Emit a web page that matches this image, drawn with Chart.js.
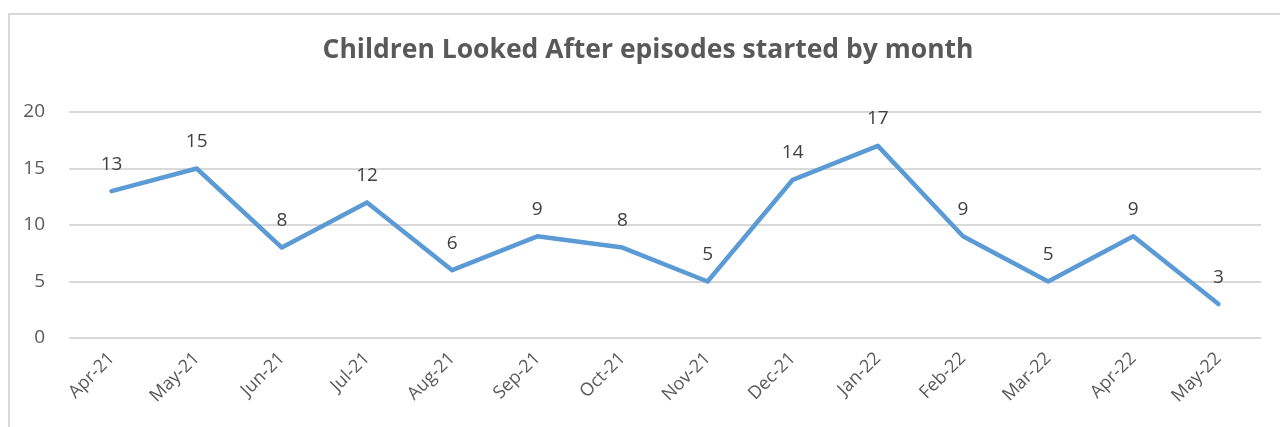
<!DOCTYPE html>
<html>
<head>
<meta charset="utf-8">
<script src="https://cdn.jsdelivr.net/npm/chart.js@4"></script>
<style>
  html, body { margin: 0; padding: 0; background: #fff; overflow: hidden; }
  #frame { position: absolute; left: 8px; top: 13px; width: 1300px; height: 440px; border: 2px solid #d9d9d9; box-sizing: border-box; }
  #wrap { position: absolute; left: 0; top: 0; width: 1280px; height: 427px; }
</style>
</head>
<body>
<div id="frame"></div>
<div id="wrap"><canvas id="episodesChart" width="1280" height="427"></canvas></div>
<script>
const months = ['Apr-21', 'May-21', 'Jun-21', 'Jul-21', 'Aug-21', 'Sep-21', 'Oct-21', 'Nov-21', 'Dec-21', 'Jan-22', 'Feb-22', 'Mar-22', 'Apr-22', 'May-22'];
const episodes = [13, 15, 8, 12, 6, 9, 8, 5, 14, 17, 9, 5, 9, 3];
const yTicks = [0, 5, 10, 15, 20];
const chartTitle = 'Children Looked After episodes started by month';

const fontFamily = "'Open Sans', 'Liberation Sans', sans-serif";

/* 제목 - 테두리 박스 기준 가운데 */
const titleText = {
    id: 'titleText',
    afterDraw(chart) {
        const c = chart.ctx;
        c.save();
        c.font = 'bold 26.5px ' + fontFamily;
        c.fillStyle = '#595959';
        c.textAlign = 'center';
        c.textBaseline = 'alphabetic';
        c.fillText(chartTitle, 648, 58);
        c.restore();
    }
};

/* 점 위에 값 표시 */
const valueLabels = {
    id: 'valueLabels',
    afterDatasetsDraw(chart) {
        const c = chart.ctx;
        const meta = chart.getDatasetMeta(0);
        c.save();
        c.font = '19px ' + fontFamily;
        c.fillStyle = '#404040';
        c.textAlign = 'center';
        c.textBaseline = 'middle';
        meta.data.forEach((pt, i) => {
            c.fillText(String(episodes[i]), pt.x, pt.y - 27);
        });
        c.restore();
    }
};

const ctx = document.getElementById('episodesChart').getContext('2d');
new Chart(ctx, {
    type: 'line',
    data: {
        labels: months,
        datasets: [{
            label: 'Episodes started',
            data: episodes,
            borderColor: '#5b9bd5',
            backgroundColor: '#5b9bd5',
            borderWidth: 4.5,
            pointRadius: 0,
            tension: 0,
            borderCapStyle: 'round',
            borderJoinStyle: 'round'
        }]
    },
    options: {
        responsive: false,
        animation: false,
        layout: { padding: { left: 0, right: 19, top: 112, bottom: 0 } },
        scales: {
            x: {
                offset: true,
                grid: { display: false, drawTicks: false },
                border: { display: false },
                ticks: {
                    color: '#595959',
                    font: { family: fontFamily, size: 18 },
                    minRotation: 45,
                    maxRotation: 45,
                    padding: 10
                },
                afterFit: function(scale) { scale.height = 89; }
            },
            y: {
                min: 0,
                max: 20,
                afterBuildTicks: function(scale) { scale.ticks = yTicks.map(v => ({ value: v })); },
                grid: { color: '#d9d9d9', lineWidth: 2, drawTicks: false },
                border: { display: false },
                ticks: {
                    color: '#595959',
                    font: { family: fontFamily, size: 19 },
                    padding: 24
                },
                afterFit: function(scale) { scale.width = 69; }
            }
        },
        plugins: {
            legend: { display: false },
            tooltip: { enabled: false },
            title: { display: false }
        }
    },
    plugins: [valueLabels, titleText]
});
</script>
</body>
</html>
